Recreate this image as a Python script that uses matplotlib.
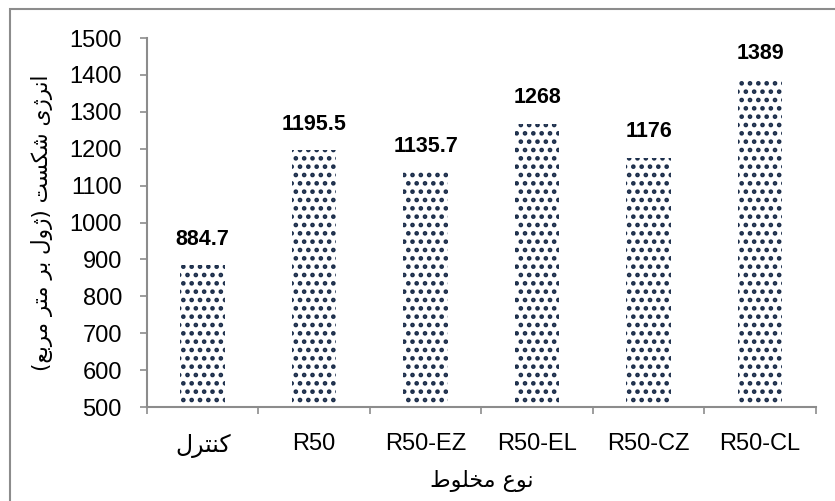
import matplotlib
matplotlib.use("Agg")
import matplotlib.pyplot as plt
import numpy as np
from matplotlib.patches import Rectangle

# ─────────────────────────────────────────────────────────────
# DONNÉES
# ─────────────────────────────────────────────────────────────
categories = ["کنترل", "R50", "R50-EZ", "R50-EL", "R50-CZ", "R50-CL"]
energy = [884.7, 1195.5, 1135.7, 1268, 1176, 1389]
value_labels = ["884.7", "1195.5", "1135.7", "1268", "1176", "1389"]
y_ticks = [500, 600, 700, 800, 900, 1000, 1100, 1200, 1300, 1400, 1500]
x_title = "نوع مخلوط"
y_title = "انرژی شکست (ژول بر متر مربع)"

BAR_COLOR = "#1b2d4a"
AXIS_COLOR = "#8c8c8c"

# ─────────────────────────────────────────────────────────────
# MISE EN FORME DU TEXTE PERSAN (formes contextuelles + ordre visuel)
# ─────────────────────────────────────────────────────────────
# lettre : (isolée, finale, initiale, médiane)
FORMS = {
    "ا": ("\uFE8D", "\uFE8E", None, None),
    "ر": ("\uFEAD", "\uFEAE", None, None),
    "ژ": ("\uFB8A", "\uFB8B", None, None),
    "و": ("\uFEED", "\uFEEE", None, None),
    "ن": ("\uFEE5", "\uFEE6", "\uFEE7", "\uFEE8"),
    "ی": ("\uFBFC", "\uFBFD", "\uFBFE", "\uFBFF"),
    "ش": ("\uFEB5", "\uFEB6", "\uFEB7", "\uFEB8"),
    "ک": ("\uFB8E", "\uFB8F", "\uFB90", "\uFB91"),
    "س": ("\uFEB1", "\uFEB2", "\uFEB3", "\uFEB4"),
    "ت": ("\uFE95", "\uFE96", "\uFE97", "\uFE98"),
    "ل": ("\uFEDD", "\uFEDE", "\uFEDF", "\uFEE0"),
    "ب": ("\uFE8F", "\uFE90", "\uFE91", "\uFE92"),
    "م": ("\uFEE1", "\uFEE2", "\uFEE3", "\uFEE4"),
    "ع": ("\uFEC9", "\uFECA", "\uFECB", "\uFECC"),
    "خ": ("\uFEA5", "\uFEA6", "\uFEA7", "\uFEA8"),
    "ط": ("\uFEC1", "\uFEC2", "\uFEC3", "\uFEC4"),
}
MIRROR = {"(": ")", ")": "("}


def dual(ch):
    return ch in FORMS and FORMS[ch][2] is not None


def shape_fa(text):
    """Applique les formes de jonction puis inverse pour un rendu gauche-droite."""
    if not any(ch in FORMS for ch in text):
        return text
    out = []
    for i, ch in enumerate(text):
        if ch not in FORMS:
            out.append(ch)
            continue
        prev = text[i - 1] if i > 0 else ""
        nxt = text[i + 1] if i + 1 < len(text) else ""
        join_prev = dual(prev)
        join_next = dual(ch) and nxt in FORMS
        iso, fin, ini, med = FORMS[ch]
        if join_prev and join_next:
            out.append(med)
        elif join_prev:
            out.append(fin)
        elif join_next:
            out.append(ini)
        else:
            out.append(iso)
    return "".join(MIRROR.get(c, c) for c in reversed(out))


# ─────────────────────────────────────────────────────────────
# GRAPHIQUE
# ─────────────────────────────────────────────────────────────
plt.rcParams["font.family"] = ["Liberation Sans", "DejaVu Sans"]
plt.rcParams["hatch.linewidth"] = 2.1

fig = plt.figure(figsize=(8.35, 5.01), dpi=100)
ax = fig.add_axes([0.176, 0.1876, 0.801, 0.7364])

x = np.arange(len(categories))
ax.bar(x, energy, width=0.4, bottom=0, color="white", edgecolor=BAR_COLOR,
       linewidth=0, hatch="..", zorder=2)

for xi, val, lab in zip(x, energy, value_labels):
    ax.annotate(lab, (xi, val), xytext=(0, 11), textcoords="offset points",
                ha="center", va="bottom", fontsize=15.5, fontweight="bold",
                color="black")

ax.set_ylim(500, 1500)
ax.set_xlim(-0.5, len(categories) - 0.5)
ax.set_yticks(y_ticks)
ax.set_yticklabels([str(v) for v in y_ticks], fontsize=17)
ax.tick_params(axis="y", direction="out", length=5, width=1.2,
               color=AXIS_COLOR, pad=13)

ax.set_xticks(x)
ax.set_xticklabels([shape_fa(c) for c in categories], fontsize=17,
                   family=["Liberation Sans", "DejaVu Sans"])
ax.tick_params(axis="x", which="major", length=0, pad=19)
ax.set_xticks(np.arange(-0.5, len(categories)), minor=True)
ax.tick_params(axis="x", which="minor", direction="out", length=5,
               width=1.2, color=AXIS_COLOR)

for side in ["top", "right"]:
    ax.spines[side].set_visible(False)
for side in ["left", "bottom"]:
    ax.spines[side].set_color(AXIS_COLOR)
    ax.spines[side].set_linewidth(1.5)

ax.set_xlabel(shape_fa(x_title), fontsize=16, family="DejaVu Sans", labelpad=9)
ax.set_ylabel(shape_fa(y_title), fontsize=15.5, family="DejaVu Sans", labelpad=12)

# cadre extérieur du graphique
fig.patches.append(Rectangle((10 / 835, -0.05), 1.2, (501 - 9.5) / 501 + 0.05,
                             transform=fig.transFigure, fill=False,
                             edgecolor=AXIS_COLOR, linewidth=1.5))

fig.savefig("out.png", dpi=100)
